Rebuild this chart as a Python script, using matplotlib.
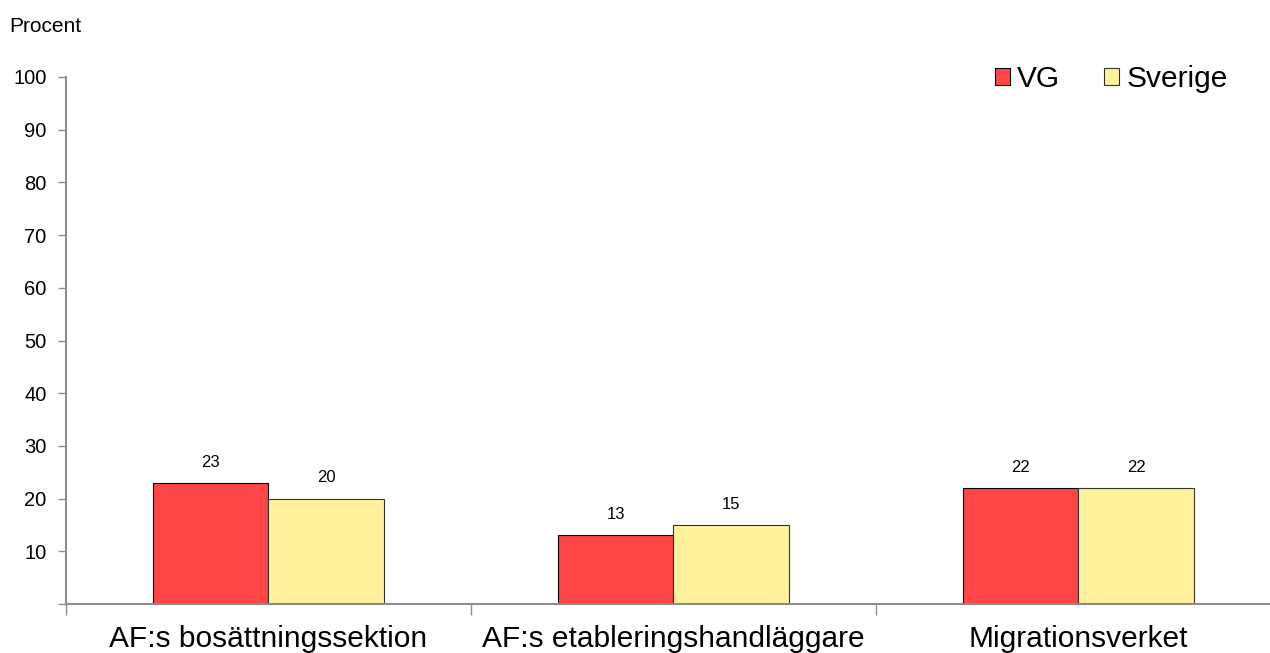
import matplotlib
matplotlib.use("Agg")
import matplotlib.pyplot as plt
import numpy as np

plt.rcParams['font.family'] = ['Liberation Sans', 'DejaVu Sans']

categories = ['AF:s bosättningssektion', 'AF:s etableringshandläggare', 'Migrationsverket']
vg = [23, 13, 22]
sverige = [20, 15, 22]
series_names = ['VG', 'Sverige']
yticks = [0, 10, 20, 30, 40, 50, 60, 70, 80, 90, 100]

red = '#FF4646'
yellow = '#FFF29A'
grey = '#8C8C8C'

fig = plt.figure(figsize=(12.7, 6.53), dpi=100)
ax = fig.add_axes([66 / 1270, 1 - 604 / 653, 1215 / 1270, (604 - 77) / 653])

x = np.arange(len(categories))
w = 0.286
b1 = ax.bar(x - w / 2, vg, w, color=red, edgecolor='black', linewidth=0.8, label=series_names[0])
b2 = ax.bar(x + w / 2, sverige, w, color=yellow, edgecolor='#333333', linewidth=0.8, label=series_names[1])

for bars, vals in ((b1, vg), (b2, sverige)):
    for rect, v in zip(bars, vals):
        ax.text(rect.get_x() + rect.get_width() / 2, v + 2.5, f"{v}",
                ha='center', va='bottom', fontsize=12)

ax.set_xlim(-0.5, 2.5)
ax.set_ylim(0, 100)

ax.set_yticks(yticks)
ax.set_yticklabels(['' if t == 0 else str(t) for t in yticks], fontsize=14.5)
ax.tick_params(axis='y', direction='out', length=6, width=1, color=grey, pad=8)

# boundary ticks on major, category names on minor
ax.set_xticks([-0.5, 0.5, 1.5])
ax.set_xticklabels([])
ax.tick_params(axis='x', which='major', direction='out', length=8, width=1, color=grey)
ax.set_xticks(x, minor=True)
ax.set_xticklabels(categories, minor=True, fontsize=21.5)
ax.tick_params(axis='x', which='minor', length=0, pad=15)

for s in ('top', 'right'):
    ax.spines[s].set_visible(False)
for s in ('left', 'bottom'):
    ax.spines[s].set_color(grey)
    ax.spines[s].set_linewidth(1.5)

fig.text(9 / 1270, 1 - 27 / 653, 'Procent', fontsize=15, va='center', ha='left')

leg = ax.legend(loc='center right', bbox_to_anchor=(0.9786, 0.996), ncol=2, frameon=False,
                fontsize=21.5, handlelength=0.5, handleheight=0.5, handletextpad=0.25,
                columnspacing=1.47)

fig.savefig('out.png', dpi=100, facecolor='white')
